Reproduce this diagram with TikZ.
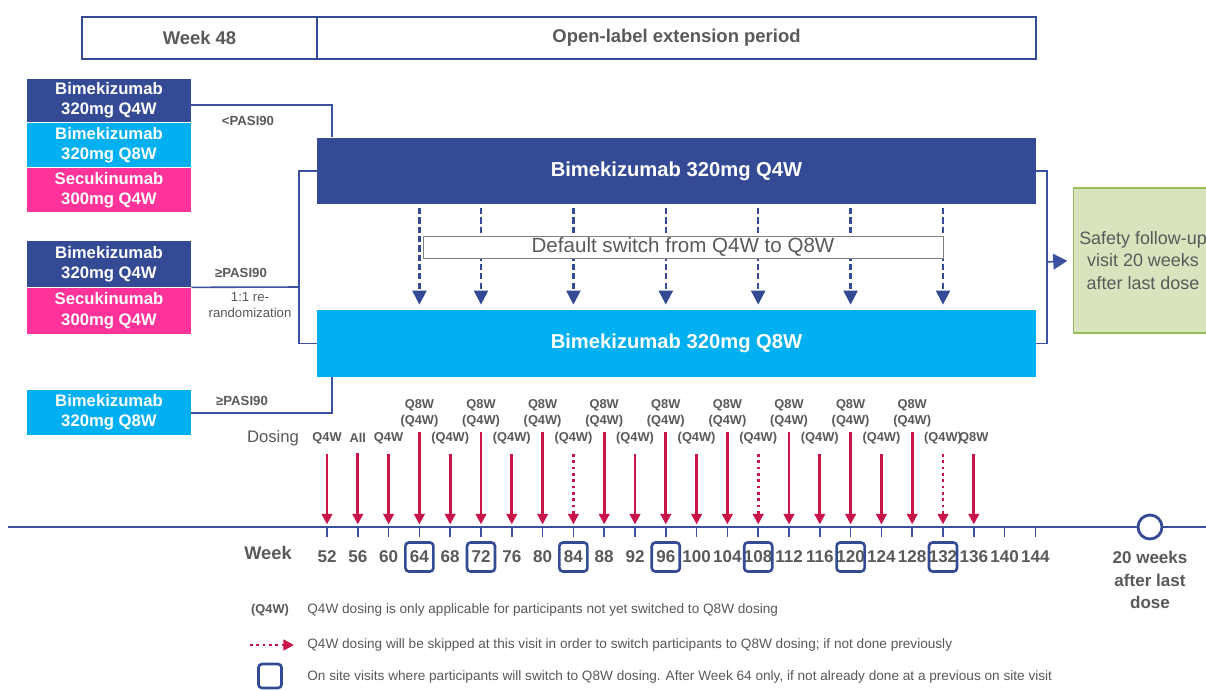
\documentclass[tikz,border=0pt]{standalone}
\usepackage{fontspec}
\setmainfont{Liberation Sans}
\usetikzlibrary{arrows.meta,positioning}

\definecolor{bimdark}{RGB}{53,74,148}
\definecolor{bimcyan}{RGB}{0,176,240}
\definecolor{secpink}{RGB}{255,51,153}
\definecolor{dosered}{RGB}{200,20,72}
\definecolor{linkblue}{RGB}{60,80,160}
\definecolor{txtgray}{RGB}{89,89,89}
\definecolor{safefill}{RGB}{215,228,189}
\definecolor{safeedge}{RGB}{155,187,89}

\tikzset{
  hdrbox/.style={draw=bimdark, line width=0.8pt, minimum height=0.84cm, inner sep=0pt, text=txtgray, font=\bfseries\fontsize{10.5}{12}\selectfont},
  armbox/.style={minimum width=3.28cm, minimum height=0.88cm, inner sep=0pt, align=center, text=white, font=\bfseries\fontsize{9.5}{11.5}\selectfont},
  bigbox/.style={minimum width=14.38cm, minimum height=1.33cm, inner sep=0pt, text=white, font=\bfseries\fontsize{11.5}{13}\selectfont},
  armlink/.style={draw=linkblue, line width=0.9pt},
  cond/.style={text=txtgray, font=\bfseries\fontsize{7.5}{9}\selectfont, align=center, inner sep=0pt},
  switcharr/.style={bimdark, line width=1.3pt, dash pattern=on 3.5pt off 1.8pt, -{Triangle[width=8pt,length=8pt]}, shorten <=2pt, shorten >=3pt},
  dosearr/.style={dosered, line width=1.6pt, -{Triangle[width=6pt,length=6pt]}, shorten >=1.5pt},
  skiparr/.style={dosearr, dotted},
  doselbl/.style={text=txtgray, font=\bfseries\fontsize{7.3}{9}\selectfont, inner sep=0pt, align=center},
  weeklbl/.style={text=txtgray, font=\bfseries\fontsize{9.7}{13}\selectfont, inner sep=0pt},
  visitbox/.style={draw=bimdark, line width=1.5pt, rounded corners=2pt, minimum width=0.56cm, minimum height=0.58cm},
  legtxt/.style={anchor=west, text=txtgray, font=\fontsize{7.75}{9}\selectfont, inner sep=0pt}
}

\begin{document}
\begin{tikzpicture}[x=0.02cm, y=-0.02cm]
\useasboundingbox[fill=white] (0,0) rectangle (1206,690);

% periods
\node (hweek) at (199.5,38) [hdrbox, minimum width=4.7cm] {Week 48};
\node (hole) at (676.5,38) [hdrbox, minimum width=14.38cm] {Open-label extension period};

% arms at week 48
\node (g1q4w) at (109,100.5) [armbox, fill=bimdark] {Bimekizumab\\320mg Q4W};
\node (g1q8w) [armbox, fill=bimcyan, below=0pt of g1q4w] {Bimekizumab\\320mg Q8W};
\node (g1secu) [armbox, fill=secpink, below=0pt of g1q8w] {Secukinumab\\300mg Q4W};
\node (g2q4w) at (109,264) [armbox, minimum height=0.92cm, fill=bimdark] {Bimekizumab\\320mg Q4W};
\node (g2secu) [armbox, minimum height=0.92cm, fill=secpink, below=0pt of g2q4w] {Secukinumab\\300mg Q4W};
\node (g3q8w) at (109,412.5) [armbox, minimum height=0.9cm, fill=bimcyan] {Bimekizumab\\320mg Q8W};

% OLE arms
\node (q4wbox) at (676.5,171) [bigbox, fill=bimdark] {Bimekizumab 320mg Q4W};
\node (q8wbox) at (676.5,343.5) [bigbox, fill=bimcyan] {Bimekizumab 320mg Q8W};
\node (safety) at (1143,260.5) [draw=safeedge, line width=1pt, fill=safefill, minimum width=2.72cm, minimum height=2.9cm, align=center, text=txtgray, font=\fontsize{10.2}{12.8}\selectfont] {Safety follow-up\\visit 20 weeks\\after last dose};

% re-allocation
\node (lt90) at (248,121) [cond] {<PASI90};
\node (ge90a) at (241,273) [cond] {≥PASI90};
\node (rerand) at (250,305) [cond, font=\fontsize{7.5}{9}\selectfont] {1:1 re-\\randomization};
\node (ge90b) at (242,401) [cond] {≥PASI90};

\coordinate (j1) at (332,105);
\coordinate (j2) at (299,287);
\coordinate (j3) at (332,413);
\coordinate (j4) at (1047,262);
\draw[armlink] (g1q4w.east |- j1) -- (j1) -- (j1 |- q4wbox.north);
\draw[armlink] (g2q4w.south east) -- (j2);
\draw[armlink] (q4wbox.west) -| (j2) |- (q8wbox.west);
\draw[armlink] (g3q8w.east |- j3) -- (j3) -- (j3 |- q8wbox.south);
\draw[armlink] (q4wbox.east) -| (j4) |- (q8wbox.east);
\draw[armlink, -{Triangle[width=9pt,length=8pt]}, shorten >=3pt] (j4) -- (safety.west);

% switch Q4W -> Q8W
\foreach \w [evaluate=\w as \x using 327+(\w-52)*7.7] in {64,72,84,96,108,120,132} {
  \coordinate (sw) at (\x,0);
  \draw[switcharr] (sw |- q4wbox.south) -- (sw |- q8wbox.north);
}
\node (dflt) at (683,247) [draw=gray, fill=white, minimum width=10.4cm, minimum height=0.44cm, inner sep=0pt, text=txtgray, font=\fontsize{11.7}{13}\selectfont] {Default switch from Q4W to Q8W};

% timeline
\coordinate (tl0) at (8,527);
\coordinate (tl1) at (1206,527);
\draw[armlink] (tl0) -- (tl1);
\node (wk) at (268,553) [weeklbl, font=\bfseries\fontsize{10.4}{12}\selectfont] {Week};
\foreach \w [evaluate=\w as \x using 327+(\w-52)*7.7] in {52,56,...,144} {
  \coordinate (t\w) at (\x,527);
  \draw[armlink] (t\w) -- ++(0,10);
  \node (w\w) at (\x,557) [weeklbl] {\w};
}
\foreach \w in {64,72,84,96,108,120,132}
  \node (v\w) at (w\w) [visitbox] {};
\node (endc) at (1150,527) [circle, draw=bimdark, line width=1.6pt, fill=white, minimum size=0.48cm] {};
\node (endlbl) at (1150,580) [weeklbl, align=center] {20 weeks\\after last\\dose};

% dosing
\node (dosing) at (273,438) [text=txtgray, font=\fontsize{9.5}{11}\selectfont] {Dosing};
\foreach \w [evaluate=\w as \x using 327+(\w-52)*7.7] in {64,72,...,128} {
  \node (d\w) at (\x,413) [doselbl] {Q8W\\(Q4W)};
  \draw[dosearr, shorten <=3pt] (d\w.south) -- (t\w);
}
\foreach \w/\lbl [evaluate=\w as \x using 327+(\w-52)*7.7] in {52/Q4W,56/All,60/Q4W,68/(Q4W),76/(Q4W),92/(Q4W),100/(Q4W),116/(Q4W),124/(Q4W),136/Q8W} {
  \node (d\w) at (\x,438) [doselbl] {\lbl};
  \draw[dosearr, shorten <=5.5pt] (d\w.south) -- (t\w);
}
\foreach \w [evaluate=\w as \x using 327+(\w-52)*7.7] in {84,108,132} {
  \node (d\w) at (\x,438) [doselbl] {(Q4W)};
  \draw[skiparr, shorten <=5.5pt] (d\w.south) -- (t\w);
}

% legend
\node (lq4w) at (270,610) [doselbl] {(Q4W)};
\node (lq4wtxt) at (307,610) [legtxt] {Q4W dosing is only applicable for participants not yet switched to Q8W dosing};
\coordinate (la0) at (250,645);
\coordinate (la1) at (294,645);
\draw[skiparr, shorten >=0pt] (la0) -- (la1);
\node (lskiptxt) at (307,645) [legtxt] {Q4W dosing will be skipped at this visit in order to switch participants to Q8W dosing; if not done previously};
\node (lbox) at (270,676) [visitbox, minimum width=0.46cm, minimum height=0.48cm] {};
\node (lboxtxt) at (307,677) [legtxt] {On site visits where participants will switch to Q8W dosing. After Week 64 only, if not already done at a previous on site visit};
\end{tikzpicture}
\end{document}
